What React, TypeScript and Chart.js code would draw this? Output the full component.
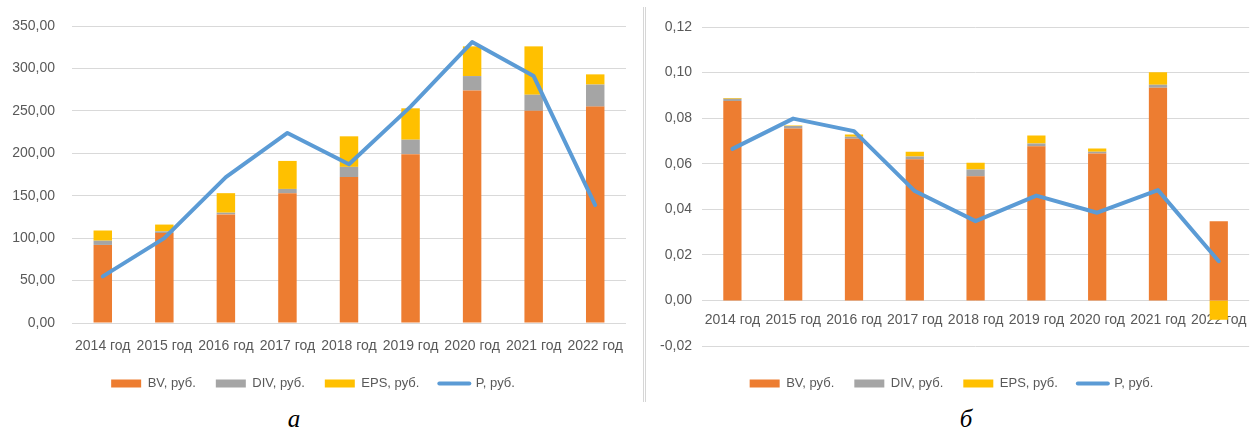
import React, { useEffect, useRef } from 'react';
import { Chart, registerables } from 'chart.js';

Chart.register(...registerables);

// Categories shared by both panels
const YEARS = [
  '2014 год', '2015 год', '2016 год', '2017 год', '2018 год',
  '2019 год', '2020 год', '2021 год', '2022 год',
];

// Panel "а": absolute values, руб.
const BV_A = [92, 106, 128, 153, 172, 199, 274, 250, 255];
const DIV_A = [5, 2, 2, 5, 12, 17, 17, 19, 26];
const EPS_A = [12, 8, 23, 33, 36, 37, 35, 57, 12];
const P_A = [55, 100, 172, 224, 187, 255, 331, 291, 139];

// Panel "б": normalised values
const BV_B = [0.0875, 0.0755, 0.071, 0.062, 0.0545, 0.0677, 0.0645, 0.0933, 0.0347];
const DIV_B = [0.001, 0.001, 0.0008, 0.0012, 0.003, 0.0012, 0.0007, 0.0014, 0];
const EPS_B = [0.0003, 0.0003, 0.001, 0.002, 0.0029, 0.0035, 0.0015, 0.0054, -0.0085];
const P_B = [0.0665, 0.0798, 0.0743, 0.048, 0.0348, 0.046, 0.0385, 0.0484, 0.0172];

// Axis ranges
const Y_A = { min: 0, max: 350, step: 50 };
const Y_B = { min: -0.02, max: 0.12, step: 0.02 };

const SERIES_NAMES = ['BV, руб.', 'DIV, руб.', 'EPS, руб.', 'P, руб.'];

const COLORS = { bv: '#ED7D31', div: '#A5A5A5', eps: '#FFC000', p: '#5B9BD5' };
const FONT = "'Liberation Sans', Arial, sans-serif";
const TEXT = '#595959';
const GRID = '#D9D9D9';

const fmt = (v: number | string) => {
  let n = Number(v);
  if (Math.abs(n) < 1e-9) n = 0;
  return n.toFixed(2).replace('.', ',');
};

type PanelSpec = {
  bv: number[];
  div: number[];
  eps: number[];
  price: number[];
  range: { min: number; max: number; step: number };
  width: number;
  height: number;
  padding: { top: number; right: number; left: number; bottom: number };
  yAxisWidth: number;
  yTickPad: number;
  xTickPad: number;
  zeroAxis: boolean;
  xAxisHeight: number;
};

function buildConfig(p: PanelSpec): any {
  const barCommon = {
    stack: 'parts',
    order: 1,
    barPercentage: 0.3,
    categoryPercentage: 1,
    pointStyle: 'rect',
    borderWidth: 0,
  };

  const xScale: any = {
    stacked: true,
    grid: { display: false, drawTicks: false },
    border: { display: false },
    ticks: {
      color: TEXT,
      font: { family: FONT, size: 14 },
      padding: p.xTickPad,
      maxRotation: 0,
      autoSkip: false,
    },
  };
  const scales: any = {};
  if (p.zeroAxis) {
    // category labels sit on the zero line, drawn above negative bars
    xScale.position = { y: 0 };
    xScale.z = 1;
    scales.x = xScale;
    // empty band that keeps the plot clear of the legend
    scales.gap = {
      type: 'category',
      position: 'bottom',
      display: true,
      grid: { display: false, drawTicks: false },
      border: { display: false },
      ticks: { display: false },
      afterFit: (s: any) => {
        s.height = p.xAxisHeight;
      },
    };
  } else {
    xScale.afterFit = (s: any) => {
      s.height = p.xAxisHeight;
    };
    scales.x = xScale;
  }
  scales.y = {
    stacked: true,
    min: p.range.min,
    max: p.range.max,
    ticks: {
      stepSize: p.range.step,
      callback: (v: number) => fmt(v),
      color: TEXT,
      font: { family: FONT, size: 14 },
      padding: p.yTickPad,
    },
    grid: { color: GRID, lineWidth: 1, drawTicks: false },
    border: { display: false },
    afterFit: (s: any) => {
      s.width = p.yAxisWidth;
    },
  };

  return {
    type: 'bar',
    data: {
      labels: YEARS,
      datasets: [
        { ...barCommon, label: SERIES_NAMES[0], data: p.bv, backgroundColor: COLORS.bv },
        { ...barCommon, label: SERIES_NAMES[1], data: p.div, backgroundColor: COLORS.div },
        { ...barCommon, label: SERIES_NAMES[2], data: p.eps, backgroundColor: COLORS.eps },
        {
          type: 'line',
          label: SERIES_NAMES[3],
          data: p.price,
          stack: 'price',
          order: 0,
          borderColor: COLORS.p,
          backgroundColor: COLORS.p,
          borderWidth: 4,
          borderCapStyle: 'round',
          borderJoinStyle: 'round',
          pointRadius: 0,
          pointHoverRadius: 0,
          pointBorderWidth: 4,
          pointStyle: 'line',
          tension: 0,
          fill: false,
        },
      ],
    },
    options: {
      animation: false,
      responsive: false,
      maintainAspectRatio: false,
      events: [],
      layout: { padding: p.padding },
      plugins: {
        tooltip: { enabled: false },
        legend: {
          position: 'bottom',
          labels: {
            usePointStyle: true,
            pointStyleWidth: 30,
            boxHeight: 8,
            padding: 20,
            color: TEXT,
            font: { family: FONT, size: 13 },
            sort: (a: any, b: any) => a.datasetIndex - b.datasetIndex,
            generateLabels: (chart: any) =>
              Chart.defaults.plugins.legend.labels
                .generateLabels(chart)
                .map((item: any) =>
                  item.datasetIndex === 3
                    ? { ...item, lineWidth: 4, strokeStyle: COLORS.p, lineCap: 'round' }
                    : { ...item, lineWidth: 0 }
                ),
          },
        },
      },
      scales,
    },
  };
}

function Panel({ spec, left }: { spec: PanelSpec; left: number }) {
  const ref = useRef<HTMLCanvasElement | null>(null);
  useEffect(() => {
    if (!ref.current) return;
    const chart = new Chart(ref.current, buildConfig(spec));
    return () => chart.destroy();
  }, [spec]);
  return (
    <canvas
      ref={ref}
      width={spec.width}
      height={spec.height}
      style={{ position: 'absolute', left, top: 0, width: spec.width, height: spec.height }}
    />
  );
}

const PANEL_A: PanelSpec = {
  bv: BV_A,
  div: DIV_A,
  eps: EPS_A,
  price: P_A,
  range: Y_A,
  width: 640,
  height: 400,
  padding: { top: 26, right: 14, left: 0, bottom: 0 },
  yAxisWidth: 72,
  yTickPad: 17,
  xTickPad: 15,
  zeroAxis: false,
  xAxisHeight: 34,
};

const PANEL_B: PanelSpec = {
  bv: BV_B,
  div: DIV_B,
  eps: EPS_B,
  price: P_B,
  range: Y_B,
  width: 612,
  height: 400,
  padding: { top: 27, right: 1, left: 0, bottom: 0 },
  yAxisWidth: 56,
  yTickPad: 10,
  xTickPad: 11,
  zeroAxis: true,
  xAxisHeight: 11,
};

const captionStyle: React.CSSProperties = {
  position: 'absolute',
  top: 404,
  fontFamily: "'Liberation Serif', 'Times New Roman', serif",
  fontStyle: 'italic',
  fontSize: 25,
  color: '#000',
  lineHeight: '30px',
  width: 40,
  textAlign: 'center',
};

export default function App() {
  return (
    <div
      style={{
        position: 'fixed',
        left: 0,
        top: 0,
        width: 1258,
        height: 434,
        background: '#fff',
        overflow: 'hidden',
      }}
    >
      <Panel spec={PANEL_A} left={0} />
      <Panel spec={PANEL_B} left={646} />
      <div
        style={{
          position: 'absolute',
          left: 643,
          top: 7,
          width: 1,
          height: 395,
          borderLeft: '1px solid #D6D6D6',
          borderRight: '1px solid #D6D6D6',
        }}
      />
      <div style={{ ...captionStyle, left: 274 }}>а</div>
      <div style={{ ...captionStyle, left: 946 }}>б</div>
    </div>
  );
}
